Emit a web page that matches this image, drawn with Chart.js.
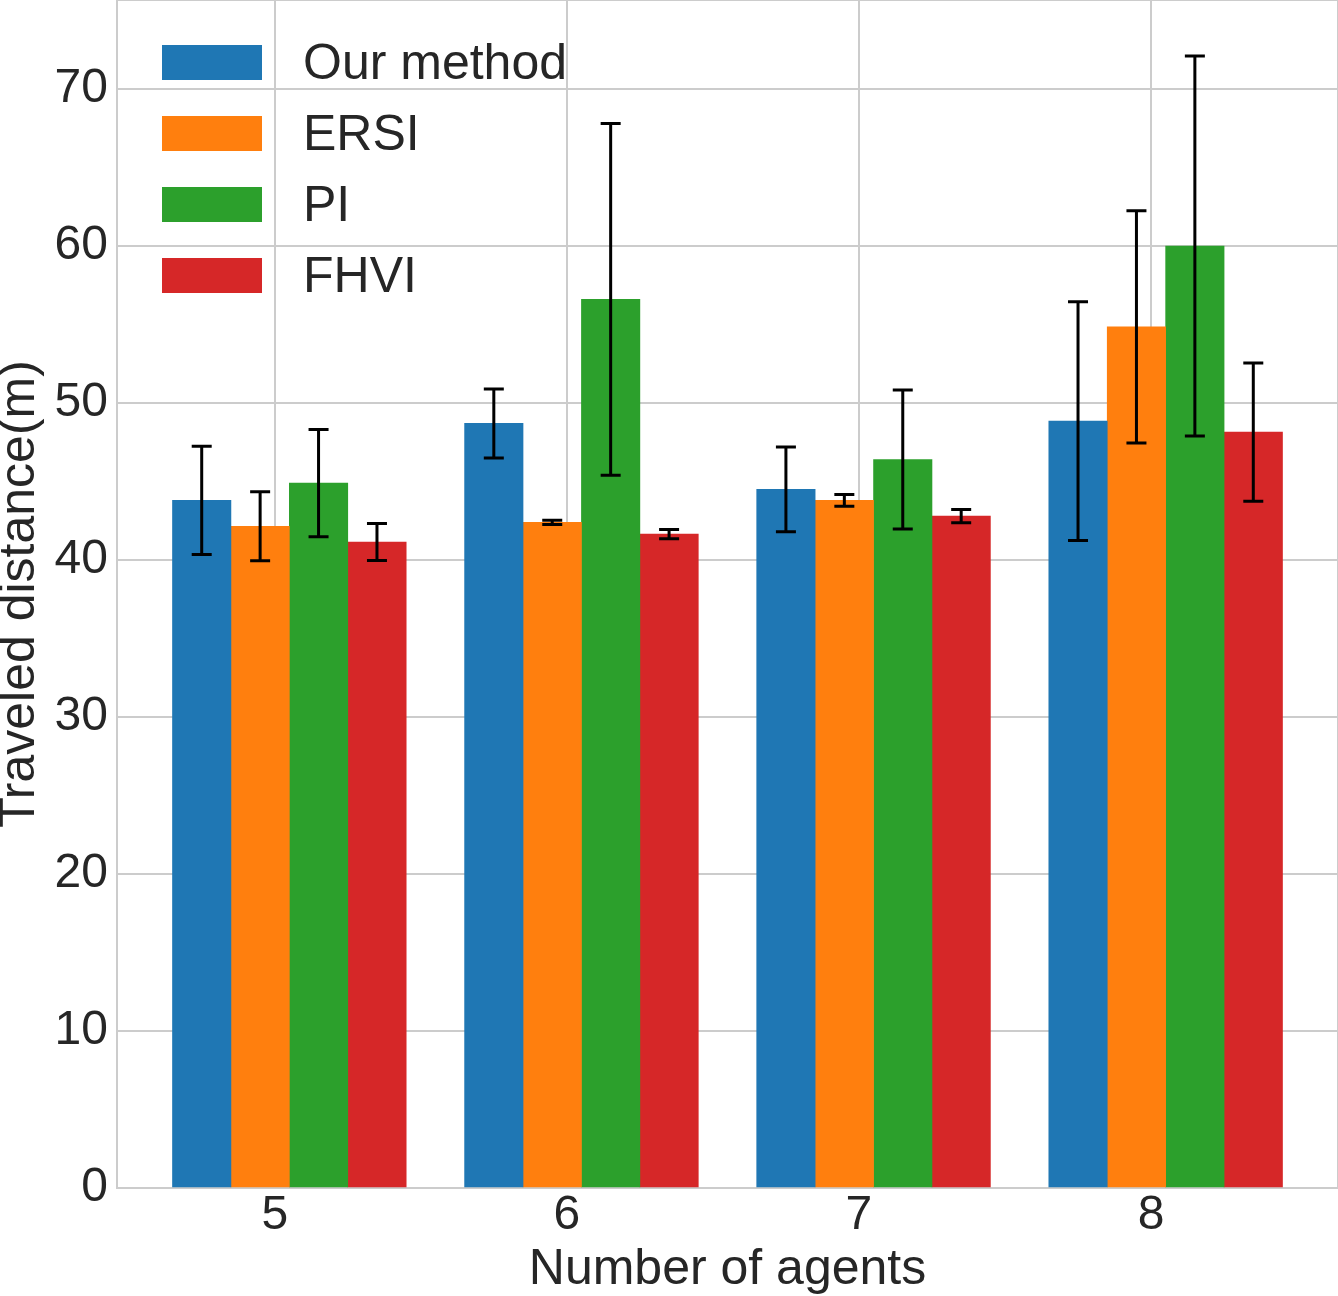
<!DOCTYPE html>
<html>
<head>
<meta charset="utf-8">
<script src="https://cdn.jsdelivr.net/npm/chart.js@4.4.1/dist/chart.umd.min.js"></script>
<style>
  html, body { margin: 0; padding: 0; background: #fff; }
</style>
</head>
<body>
<canvas id="chart" width="1338" height="1296"></canvas>
<script>
const agents = ['5', '6', '7', '8'];
const seriesNames = ['Our method', 'ERSI', 'PI', 'FHVI'];
const ourMethod = [43.8, 48.7, 44.5, 48.85];
const ourMethodErr = [3.45, 2.2, 2.7, 7.6];
const ersi = [42.15, 42.4, 43.8, 54.85];
const ersiErr = [2.2, 0.14, 0.38, 7.4];
const pi = [44.9, 56.6, 46.4, 60.0];
const piErr = [3.42, 11.2, 4.43, 12.1];
const fhvi = [41.15, 41.65, 42.8, 48.15];
const fhviErr = [1.18, 0.29, 0.42, 4.4];
const yTicks = [0, 10, 20, 30, 40, 50, 60, 70];

const colors = ['#1f77b4', '#ff7f0e', '#2ca02c', '#d62728'];
const values = [ourMethod, ersi, pi, fhvi];
const errs = [ourMethodErr, ersiErr, piErr, fhviErr];
const barWidth = 0.2;
const textColor = '#262626';
const gridColor = '#cccccc';
const font = 'Liberation Sans, Arial, sans-serif';

// matplotlib style: bars at x + k*width - 0.25 (so group is shifted right of tick)
const datasets = values.map(function(vals, k) {
  return {
    label: seriesNames[k],
    data: vals.map(function(v, j) { return { x: j - 0.25 + k * barWidth, y: v }; }),
    errors: errs[k],
    backgroundColor: colors[k],
    borderWidth: 0,
    grouped: false,
    barPercentage: 1,
    categoryPercentage: 1
  };
});

const frame = {
  id: 'frame',
  beforeDatasetsDraw(chart) {
    const a = chart.chartArea, ctx = chart.ctx;
    ctx.save();
    ctx.strokeStyle = gridColor;
    ctx.lineWidth = 2;
    ctx.strokeRect(a.left, a.top, a.right - a.left, a.bottom - a.top);
    ctx.restore();
  }
};

const errorBars = {
  id: 'errorBars',
  afterDatasetsDraw(chart) {
    const ctx = chart.ctx, y = chart.scales.y;
    ctx.save();
    ctx.strokeStyle = '#000';
    ctx.lineWidth = 3;
    chart.data.datasets.forEach(function(ds, i) {
      const meta = chart.getDatasetMeta(i);
      meta.data.forEach(function(bar, j) {
        const v = ds.data[j].y, e = ds.errors[j];
        const top = y.getPixelForValue(v + e), bot = y.getPixelForValue(v - e);
        ctx.beginPath();
        ctx.moveTo(bar.x, top); ctx.lineTo(bar.x, bot);
        ctx.moveTo(bar.x - 10, top); ctx.lineTo(bar.x + 10, top);
        ctx.moveTo(bar.x - 10, bot); ctx.lineTo(bar.x + 10, bot);
        ctx.stroke();
      });
    });
    ctx.restore();
  }
};

const legendBox = {
  id: 'legendBox',
  afterDraw(chart) {
    const a = chart.chartArea, ctx = chart.ctx;
    ctx.save();
    ctx.font = '50px ' + font;
    ctx.textBaseline = 'middle';
    chart.data.datasets.forEach(function(ds, i) {
      const top = a.top + 45 + i * 71;
      ctx.fillStyle = ds.backgroundColor;
      ctx.fillRect(a.left + 45, top, 100, 35);
      ctx.fillStyle = textColor;
      ctx.fillText(ds.label, a.left + 186, top + 20);
    });
    ctx.restore();
  }
};

new Chart(document.getElementById('chart'), {
  type: 'bar',
  data: { datasets: datasets },
  plugins: [frame, errorBars, legendBox],
  options: {
    responsive: false,
    devicePixelRatio: 1,
    animation: false,
    layout: { padding: 0 },
    plugins: { legend: { display: false }, tooltip: { enabled: false } },
    scales: {
      x: {
        type: 'linear',
        offset: false,
        min: -0.54,
        max: 3.64,
        afterBuildTicks: function(s) { s.ticks = agents.map(function(a, j) { return { value: j }; }); },
        afterFit: function(s) { s.height = 108; s.paddingLeft = 0; s.paddingRight = 0; },
        ticks: {
          callback: function(v) { return agents[v]; },
          color: textColor,
          font: { family: font, size: 48, lineHeight: 1 },
          padding: 4,
          maxRotation: 0
        },
        grid: { color: gridColor, lineWidth: 2, drawTicks: false, offset: false },
        border: { display: false },
        title: {
          display: true,
          text: 'Number of agents',
          color: textColor,
          font: { family: font, size: 50, lineHeight: 1 },
          padding: { top: 0, bottom: 1 }
        }
      },
      y: {
        min: 0,
        max: 75.67,
        afterBuildTicks: function(s) { s.ticks = yTicks.map(function(v) { return { value: v }; }); },
        afterFit: function(s) { s.width = 117; s.paddingTop = 0; s.paddingBottom = 0; },
        ticks: {
          color: textColor,
          font: { family: font, size: 48, lineHeight: 1 },
          padding: 9
        },
        grid: { color: gridColor, lineWidth: 2, drawTicks: false },
        border: { display: false },
        title: {
          display: true,
          text: 'Traveled distance(m)',
          color: textColor,
          font: { family: font, size: 50, lineHeight: 0.8 },
          padding: { top: 0, bottom: 0 }
        }
      }
    }
  }
});
</script>
</body>
</html>
